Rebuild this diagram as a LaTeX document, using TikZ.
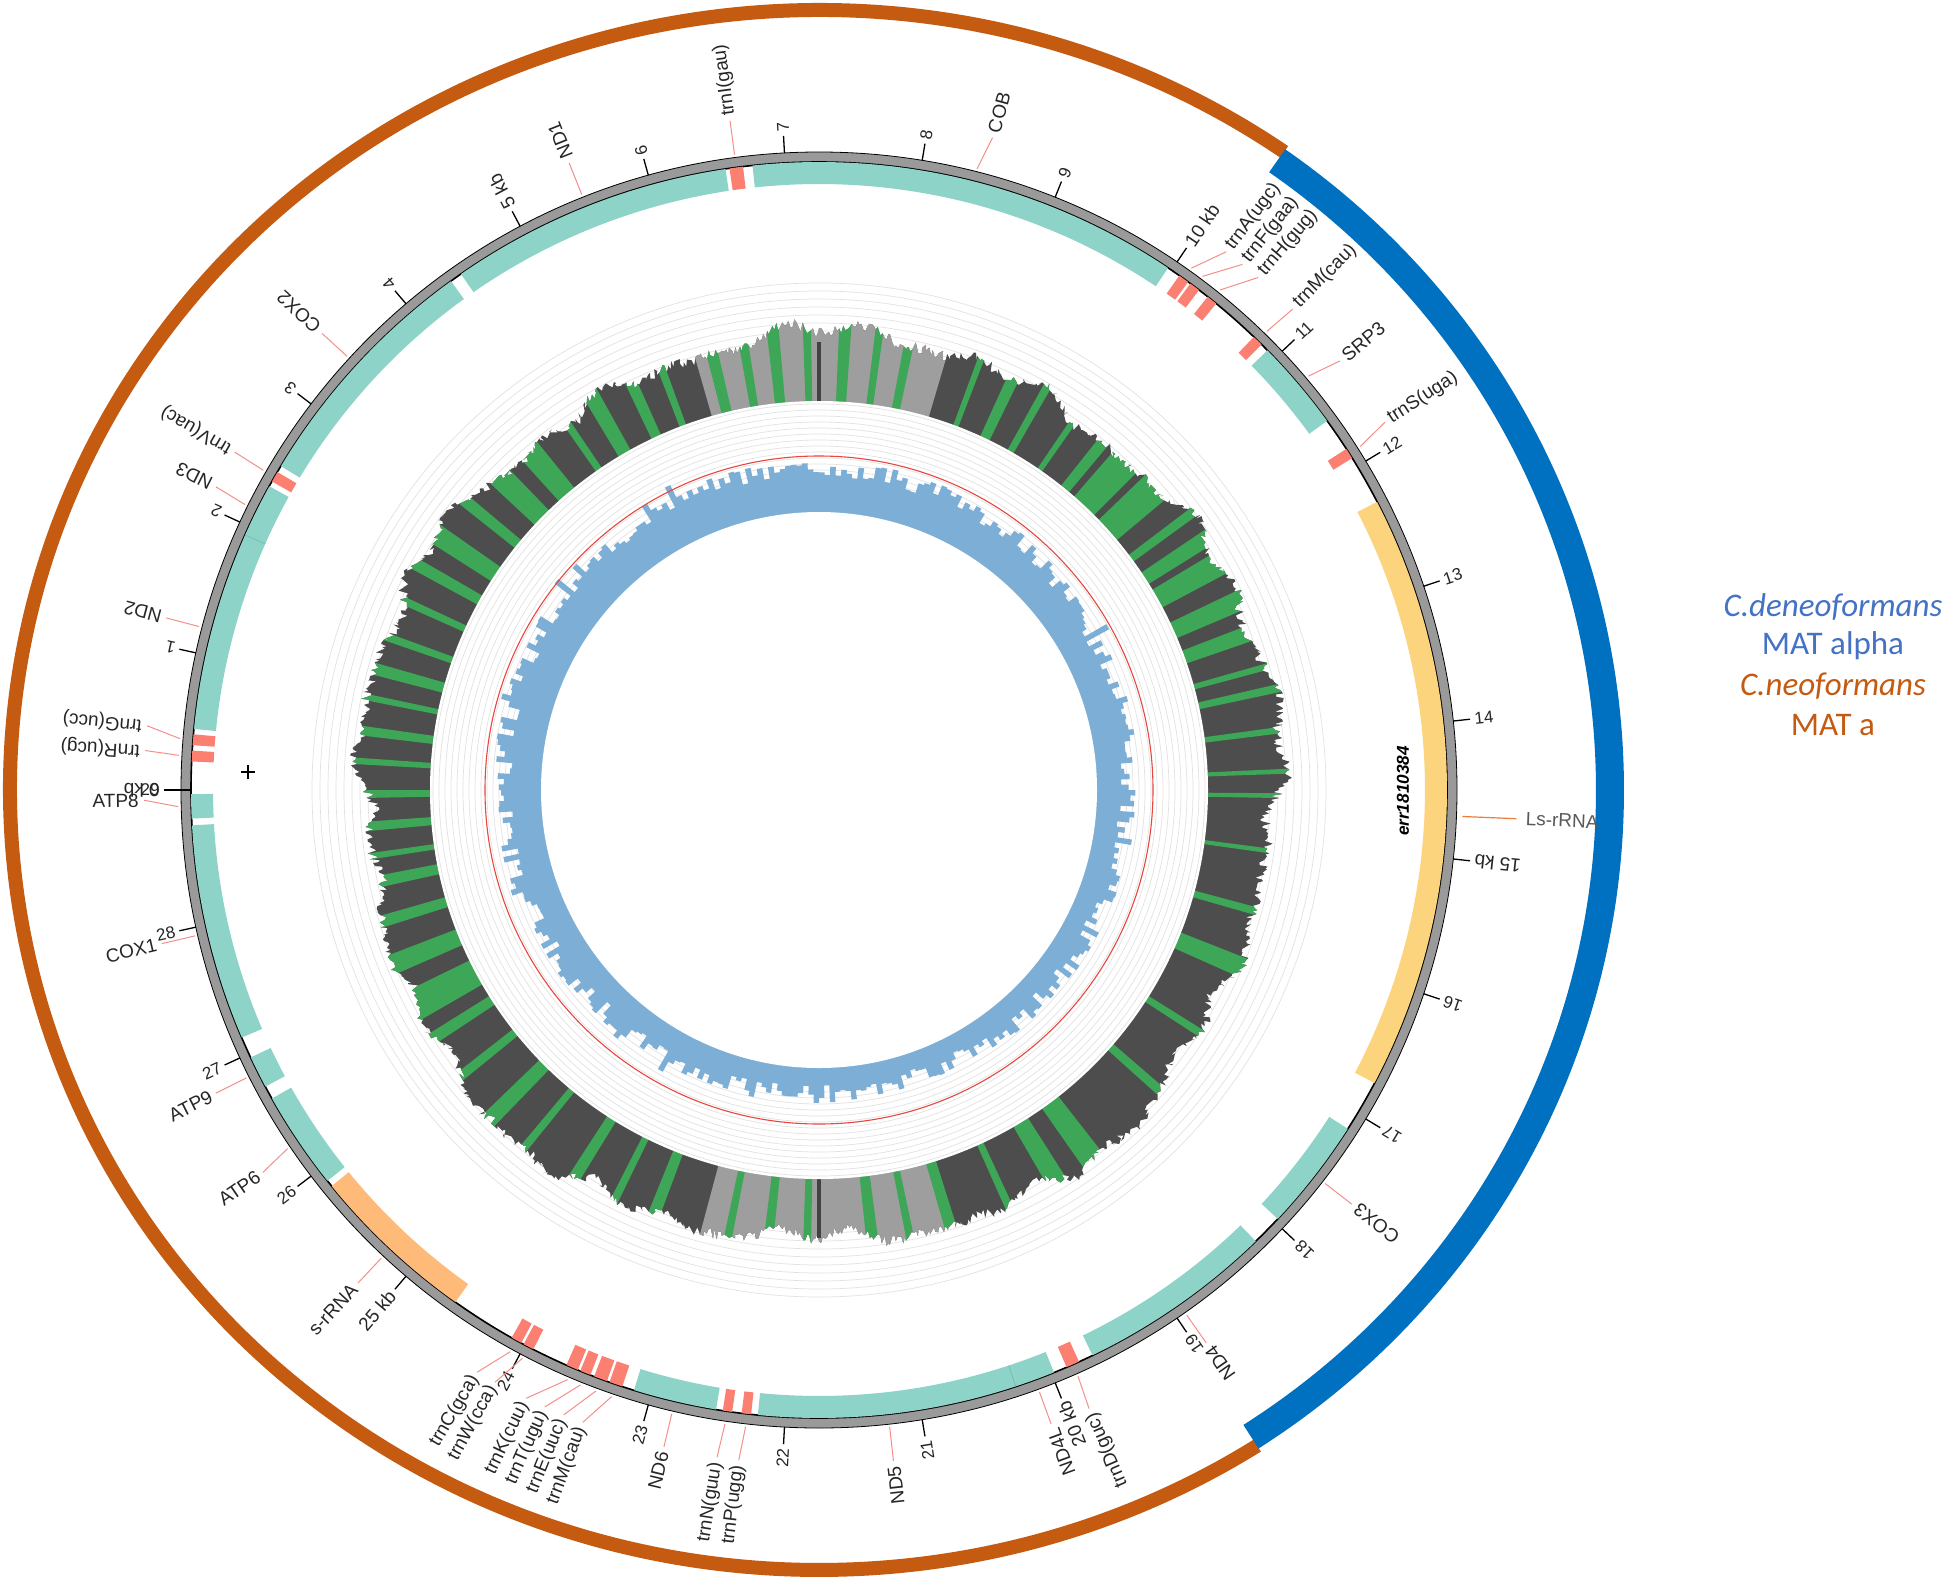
\documentclass[tikz,border=0pt]{standalone}
\usepackage{fontspec}
\setmainfont{Liberation Sans}
\newfontfamily\legfont{Carlito}
\definecolor{genecol}{HTML}{8DD3C7}
\definecolor{gensep}{HTML}{76BDB1}
\definecolor{trncol}{HTML}{FB8072}
\definecolor{lscol}{HTML}{FDD47E}
\definecolor{sscol}{HTML}{FDBA78}
\definecolor{ringgray}{HTML}{9A9A9A}
\definecolor{mtgray}{HTML}{4D4D4D}
\definecolor{mtlight}{HTML}{9E9E9E}
\definecolor{mtgreen}{HTML}{3DA657}
\definecolor{barblue}{HTML}{7DAFD6}
\definecolor{redline}{HTML}{E8463F}
\definecolor{gridcol}{HTML}{E2E2E2}
\definecolor{leadcol}{HTML}{F3908A}
\definecolor{lslead}{HTML}{EE7A3C}
\definecolor{orng}{HTML}{C55A11}
\definecolor{blu}{HTML}{0070C0}
\definecolor{legblue}{HTML}{4472C4}
\definecolor{legorange}{HTML}{C55A11}
\definecolor{txtcol}{HTML}{262626}
\newcommand\genebox[3]{%
  \pgfmathsetmacro\aS{180-(#1)*12.41379}%
  \pgfmathsetmacro\aE{180-(#2)*12.41379}%
  \fill[#3] (\aS:606) arc[start angle=\aS, end angle=\aE, radius=606] -- (\aE:628) arc[start angle=\aE, end angle=\aS, radius=628] -- cycle;}
\newcommand\genelab[4]{%
  \pgfmathsetmacro\aG{180-(#1)*12.41379}%
  \pgfmathsetmacro\aL{180-(#2)*12.41379}%
  \draw[leader] (\aG:641) -- (\aL:675);
  \if o#3\relax
    \node[glabel, anchor=west, rotate=\aL] at (\aL:678) {#4};
  \else
    \pgfmathsetmacro\aR{\aL+180}%
    \node[glabel, anchor=east, rotate=\aR] at (\aL:678) {#4};
  \fi}
\begin{document}
\begin{tikzpicture}[x=0.5pt,y=0.5pt,
  declare function={mh(\t)=66+3*sin(2*\t+40)+6*sin(5*\t+20)+5*sin(13*\t)+4*sin(31*\t+30)+3*sin(43*\t+10)+11*(rnd-0.5);},
  glabel/.style={font=\fontsize{9.5}{11}\selectfont, text=txtcol, inner sep=1pt},
  ticksmall/.style={font=\fontsize{8.5}{10}\selectfont, text=txtcol, inner sep=1pt},
  ticklarge/.style={font=\fontsize{9.5}{11}\selectfont, text=txtcol, inner sep=1pt},
  leader/.style={leadcol, line width=0.5pt},
  tickline/.style={black, line width=0.65pt}]
\useasboundingbox (0,0) rectangle (1950,-1580);
\fill[white] (0,0) rectangle (1950,-1580);
\begin{scope}[shift={(819,-790)}]
  % faint grid around mountains
  \foreach \r in {395,403,...,507} {\draw[gridcol, line width=0.35pt] (0,0) circle (\r);}
  % mountains
  \pgfmathsetseed{11}
  \fill[mtgray] plot[domain=0:360, samples=1441, variable=\t] (\t:{389+mh(\t)}) -- cycle;
  \begin{scope}
    \pgfmathsetseed{11}
    \clip plot[domain=0:360, samples=1441, variable=\t] (\t:{389+mh(\t)}) -- cycle;
    \fill[mtlight] (73.6:380) -- (73.6:530) arc[start angle=73.6, end angle=106, radius=530] -- (106:380) -- cycle;
    \fill[mtlight] (255:380) -- (255:530) arc[start angle=255, end angle=287, radius=530] -- (287:380) -- cycle;
    \foreach \s/\w in {78/1.2, 82/1, 86/1.5, 91/1, 95/1.5, 99/1.2, 103/1.5,
        55/0.8, 60/1, 64/1.5, 69/0.8,
        19/2, 23/2.5, 28/3, 32/2, 36/1.2, 40/4, 45/4, 50/1.5,
        2/0.6, 7/0.8, 12/1, 15/0.8, 359/0.6,
        352/0.6, 344/1, 336/2.5, 327/1, 318/1.2, 305/3, 300/2.5, 294/1,
        258/1, 263/1.2, 268/1, 276/1.5, 281/1, 286/1.5,
        196/1.5, 201/2.5, 206/4, 212/1.5, 218/1.2, 224/2, 230/1, 237/1.5, 243/1, 248/1.5,
        160/1, 164/1.5, 168/0.8, 172/1.2, 176/0.8, 180/1, 184/1.2, 188/0.8, 191/1.5,
        110/1, 114/1.5, 119/2, 124/1, 129/3, 134/3, 140/1.5, 145/2.5, 150/1.5, 155/1} {
      \pgfmathsetmacro\e{\s+\w}
      \fill[mtgreen] (\s:380) -- (\s:530) arc[start angle=\s, end angle=\e, radius=530] -- (\e:380) -- cycle;
    }
  \end{scope}
  \draw[mtgray!85!black, line width=2.2pt] (90:389) -- (90:448);
  \draw[mtgray!85!black, line width=2.2pt] (270:389) -- (270:448);
  \fill[white] (0,0) circle (389);
  % inner grid
  \foreach \r in {284,290,...,386} {\draw[gridcol, line width=0.35pt] (0,0) circle (\r);}
  % blue histogram
  \pgfmathsetseed{5}
  \fill[barblue] (0:300) \foreach \i [evaluate=\i as \r using {313+9*sin(\i)-3*cos(\i)+18*(rnd-0.5)+12*(rnd>0.95)}, evaluate=\i as \j using int(\i+1)] in {0,...,359} { -- (\i:\r) -- (\j:\r) } -- cycle;
  \fill[white] (0,0) circle (278);
  \draw[redline, line width=0.55pt] (0,0) circle (334);
  % outer arcs
  \draw[orng, line width=7pt] (54.9:809 and 780) arc[start angle=54.9, end angle=302.8, x radius=809, y radius=780];
  \draw[blu, line width=14pt] (-56.9:791 and 772) arc[start angle=-56.9, end angle=54.6, x radius=791, y radius=772];
  % genome ring
  \fill[ringgray, even odd rule] (0,0) circle (638) (0,0) circle (628);
  \draw[black, line width=0.4pt] (0,0) circle (638);
  \draw[black, line width=0.8pt] (0,0) circle (628);
  % features
  \genebox{0.21}{0.29}{trncol}
  \genebox{0.33}{0.41}{trncol}
  \genebox{0.45}{1.93}{genecol}
  \genebox{1.93}{2.33}{genecol}
  \draw[gensep, line width=0.4pt] (180-1.93*12.41379:606) -- (180-1.93*12.41379:628);
  \genebox{2.37}{2.45}{trncol}
  \genebox{2.50}{4.36}{genecol}
  \genebox{4.45}{6.56}{genecol}
  \genebox{6.59}{6.69}{trncol}
  \genebox{6.76}{9.97}{genecol}
  \genebox{10.07}{10.15}{trncol}
  \genebox{10.17}{10.25}{trncol}
  \genebox{10.33}{10.41}{trncol}
  \genebox{10.78}{10.86}{trncol}
  \genebox{10.92}{11.60}{genecol}
  \genebox{11.85}{11.93}{trncol}
  \genebox{12.30}{16.74}{lscol}
  \genebox{17.13}{17.97}{genecol}
  \genebox{18.20}{19.67}{genecol}
  \genebox{19.78}{19.88}{trncol}
  \genebox{19.98}{20.28}{genecol}
  \genebox{20.28}{22.20}{genecol}
  \draw[gensep, line width=0.4pt] (180-20.28*12.41379:606) -- (180-20.28*12.41379:628);
  \genebox{22.25}{22.32}{trncol}
  \genebox{22.39}{22.46}{trncol}
  \genebox{22.51}{23.13}{genecol}
  \genebox{23.22}{23.32}{trncol}
  \genebox{23.34}{23.44}{trncol}
  \genebox{23.47}{23.55}{trncol}
  \genebox{23.57}{23.66}{trncol}
  \genebox{23.93}{24.01}{trncol}
  \genebox{24.03}{24.11}{trncol}
  \genebox{24.60}{25.85}{sscol}
  \genebox{25.90}{26.63}{genecol}
  \genebox{26.73}{26.97}{genecol}
  \genebox{27.13}{28.74}{genecol}
  \genebox{28.79}{28.97}{genecol}
  % ticks
  \draw[tickline] (180:628) -- (180:655);
  \foreach \p in {0,...,29} {
    \pgfmathsetmacro\a{180-\p*12.41379}
    \draw[tickline] (\a:638) -- (\a:655);
    \pgfmathtruncatemacro\m{mod(\p,5)}
    \ifnum\m=0 \def\txt{\p\ kb}\def\tsty{ticklarge}\else\def\txt{\p}\def\tsty{ticksmall}\fi
    \ifnum\p<15
      \node[\tsty, anchor=west, rotate=\a] at (\a:657) {\txt};
    \else
      \pgfmathsetmacro\b{\a+180}
      \node[\tsty, anchor=east, rotate=\b] at (\a:657) {\txt};
    \fi
  }
  % gene labels
  \genelab{0.25}{0.27}{o}{trnR(ucg)}
  \genelab{0.37}{0.44}{o}{trnG(ucc)}
  \genelab{1.19}{1.19}{o}{ND2}
  \genelab{2.13}{2.15}{o}{ND3}
  \genelab{2.41}{2.42}{o}{trnV(uac)}
  \genelab{3.43}{3.43}{o}{COX2}
  \genelab{5.50}{5.50}{o}{ND1}
  \genelab{6.64}{6.64}{o}{trnI(gau)}
  \genelab{8.40}{8.45}{o}{COB}
  \genelab{10.11}{10.24}{o}{trnA(ugc)}
  \genelab{10.21}{10.38}{o}{trnF(gaa)}
  \genelab{10.37}{10.52}{o}{trnH(gug)}
  \genelab{10.82}{10.84}{o}{trnM(cau)}
  \genelab{11.26}{11.32}{o}{SRP3}
  \genelab{11.89}{11.84}{o}{trnS(uga)}
  \pgfmathsetmacro\aLs{180-14.69*12.41379}
  \draw[lslead, line width=0.6pt] (\aLs:644) -- (\aLs:698);
  \node[glabel, text=black!65, anchor=west, rotate=\aLs] (lsr) at (\aLs:705) {Ls-rRNA};
  \genelab{17.55}{17.55}{i}{COX3}
  \genelab{18.93}{18.93}{i}{ND4}
  \genelab{19.83}{19.85}{i}{trnD(guc)}
  \genelab{20.13}{20.13}{i}{ND4L}
  \genelab{21.24}{21.24}{i}{ND5}
  \genelab{22.28}{22.30}{i}{trnP(ugg)}
  \genelab{22.43}{22.45}{i}{trnN(guu)}
  \genelab{22.82}{22.82}{i}{ND6}
  \genelab{23.27}{23.40}{i}{trnM(cau)}
  \genelab{23.39}{23.54}{i}{trnE(uuc)}
  \genelab{23.51}{23.68}{i}{trnT(ugu)}
  \genelab{23.61}{23.82}{i}{trnK(cuu)}
  \genelab{23.97}{24.06}{i}{trnW(cca)}
  \genelab{24.07}{24.20}{i}{trnC(gca)}
  \genelab{25.22}{25.22}{i}{s-rRNA}
  \genelab{26.26}{26.22}{i}{ATP6}
  \genelab{26.85}{26.85}{i}{ATP9}
  \genelab{27.94}{27.94}{i}{COX1}
  \genelab{28.88}{28.93}{i}{ATP8}
  % track name and cross
  \node[rotate=90, font=\bfseries\itshape\fontsize{8.6}{10}\selectfont, inner sep=0pt] (trk) at (584,-1) {err1810384};
  \draw[black, line width=0.7pt] (-578,18) -- (-564,18) (-571,11) -- (-571,25);
\end{scope}
% legend
\node[font=\legfont\itshape\fontsize{16.5}{19}\selectfont, text=legblue] (l1) at (1833,-607) {C.deneoformans};
\node[font=\legfont\fontsize{16.5}{19}\selectfont, text=legblue] (l2) at (1833,-646) {MAT alpha};
\node[font=\legfont\itshape\fontsize{16.5}{19}\selectfont, text=legorange] (l3) at (1833,-686) {C.neoformans};
\node[font=\legfont\fontsize{16.5}{19}\selectfont, text=legorange] (l4) at (1833,-725) {MAT a};
\end{tikzpicture}
\end{document}
